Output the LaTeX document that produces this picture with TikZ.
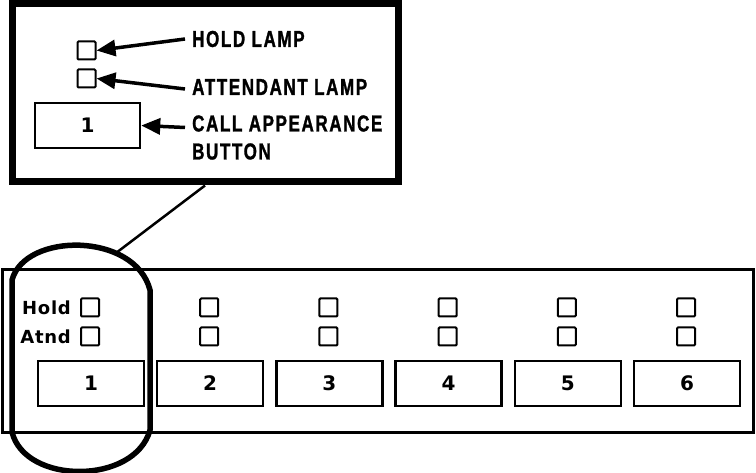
\documentclass[tikz,border=0pt]{standalone}
\usepackage{fontspec}
\setmainfont{Liberation Sans}
\newfontfamily\capsfont{Liberation Sans}[FakeStretch=0.74,LetterSpace=7,BoldFeatures={FakeBold=1.2}]
\newfontfamily\heavyfont{DejaVu Sans}
\usetikzlibrary{arrows.meta}
\usetikzlibrary{positioning}

\begin{document}
\begin{tikzpicture}[x=1pt, y=-1pt,
    lamp/.style={draw, line width=2pt, rounded corners=1pt, minimum size=18pt, inner sep=0pt},
    key/.style={draw, line width=2.5pt, minimum width=106pt, minimum height=45pt, inner sep=0pt, font=\fontsize{20}{24}\selectfont\heavyfont\bfseries},
    callout/.style={anchor=west, inner sep=0pt, inner xsep=7pt, align=left, font=\fontsize{23}{28}\selectfont\capsfont\bfseries},
    pointer/.style={line width=3.5pt, -{Triangle[length=19pt, width=16pt]}},
    tag/.style={inner sep=0pt, font=\fontsize{18}{22}\selectfont\heavyfont\bfseries\addfontfeature{LetterSpace=4}}]

    \useasboundingbox (0,0) rectangle (756,473);

    % enlarged view of one appearance
    \node[draw, line width=7pt, minimum width=386pt, minimum height=178pt] (detail) at (205,93) {};
    \node[lamp] (holdbig) at (86.5,50.5) {};
    \node[lamp] (atndbig) at (86.5,78.5) {};
    \node[key, minimum width=105pt] (keybig) at (87.5,125.5) {1};

    \node[callout] (holdtxt) at (185,39) {HOLD LAMP};
    \node[callout] (atndtxt) at (185,87) {ATTENDANT LAMP};
    \node[callout] (calltxt) at (185,137.5) {CALL APPEARANCE\\BUTTON};

    \draw[pointer] (holdtxt.west) -- (holdbig.east);
    \draw[pointer] ([yshift=-2pt]atndtxt.west) -- (atndbig.east);
    \draw[pointer] ([yshift=10pt]calltxt.west) -- (keybig.east);

    % console strip
    \draw[line width=3pt] (2,270) rectangle (753,432);
    \foreach \n in {1,...,6} {
        \pgfmathsetmacro\kx{91+(\n-1)*119.2}
        \node[key] (key\n) at (\kx,383.5) {\n};
        \node[lamp] (hold\n) at (\kx-1,307.5) {};
        \node[lamp] (atnd\n) at (\kx-1,336.5) {};
    }
    \node[tag, left=9pt of hold1] (holdtag) {Hold};
    \node[tag, left=9pt of atnd1] (atndtag) {Atnd};

    % ring round the first appearance
    \draw[line width=5.5pt] (12,432) -- (12,280) .. controls (25,232) and (135,232) .. (150,290)
        -- (150,430) .. controls (135,485) and (25,485) .. cycle;
    \coordinate (ringtop) at (116,253);
    \draw[line width=2.5pt] (detail.south) -- (ringtop);
\end{tikzpicture}
\end{document}
